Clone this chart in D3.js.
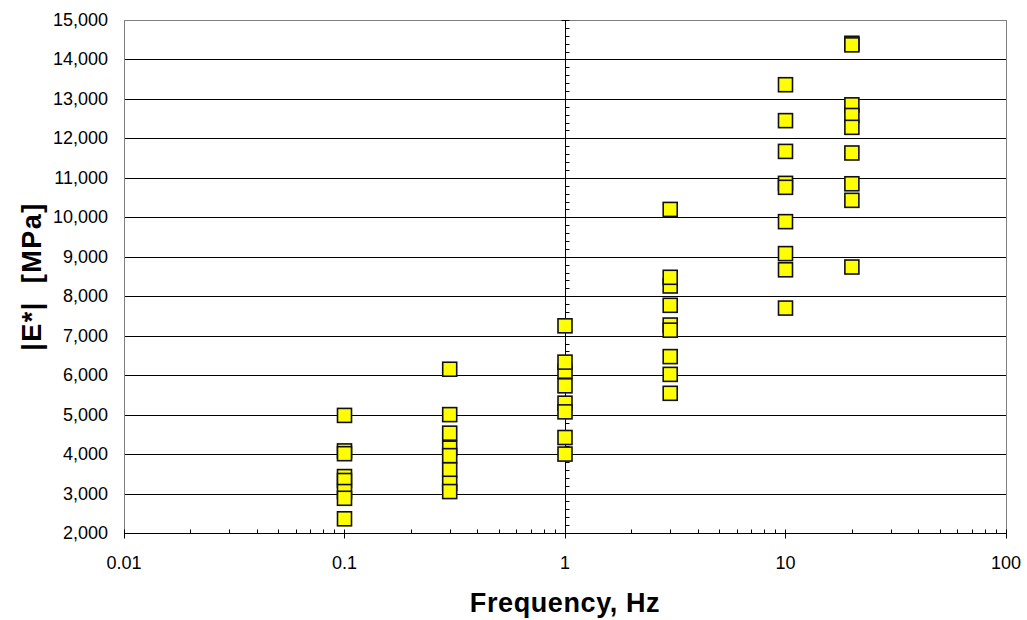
<!DOCTYPE html>
<html lang="en">
<head>
<meta charset="UTF-8">
<title>|E*| vs Frequency</title>
<script src="https://d3js.org/d3.v7.min.js"></script>
<style>
    body { margin: 0; background: #fff; font-family: Arial, "Liberation Sans", sans-serif; }
    svg { display: block; }
    .tick-label { font-size: 18px; fill: #000; }
    .axis-title { font-size: 27px; font-weight: bold; fill: #000; }
    .grid { stroke: #000; stroke-width: 1; shape-rendering: crispEdges; }
    .marker { fill: #ffff00; stroke: #111; stroke-width: 1.6; }
</style>
</head>
<body>
<svg id="chart"></svg>
<script>
    // frequencies tested (Hz)
    const frequencies = [0.1, 0.3, 1, 3, 10, 20];

    // |E*| readings (MPa) at each frequency
    const e_0_1 = [4980, 4080, 4010, 3430, 3330, 3050, 2880, 2360];
    const e_0_3 = [6150, 5000, 4530, 4150, 3960, 3600, 3260, 3050];
    const e_1 = [7250, 6100, 6330, 5730, 5290, 5070, 4420, 4000];
    const e_3 = [10200, 8260, 8480, 7770, 7270, 7140, 6470, 6020, 5540];
    const e_10 = [13360, 12450, 11670, 10860, 10760, 9890, 9080, 8670, 7700];
    const e_20 = [14410, 14370, 12850, 12580, 12280, 11630, 10850, 10430, 8740];

    const yTicks = d3.range(2000, 15001, 1000);
    const xTicks = [0.01, 0.1, 1, 10, 100];

    const width = 1027, height = 620;
    const margin = { left: 124, right: 21, top: 20, bottom: 87 };

    const svg = d3.select("#chart").attr("width", width).attr("height", height);

    const x = d3.scaleLog().domain([0.01, 100]).range([margin.left, width - margin.right]);
    const y = d3.scaleLinear().domain([2000, 15000]).range([height - margin.bottom, margin.top]);

    const px = v => Math.round(v) + 0.5;

    // horizontal gridlines
    svg.selectAll(".grid")
        .data(yTicks.slice(1, -1))
        .enter().append("line")
        .attr("class", "grid")
        .attr("x1", x(0.01)).attr("x2", x(100))
        .attr("y1", d => px(y(d))).attr("y2", d => px(y(d)));

    // plot border
    svg.append("rect")
        .attr("x", px(x(0.01))).attr("y", px(y(15000)))
        .attr("width", Math.round(x(100)) - Math.round(x(0.01)))
        .attr("height", Math.round(y(2000)) - Math.round(y(15000)))
        .attr("fill", "none").attr("stroke", "#808080").attr("stroke-width", 1);

    // value axis crossing at 1 Hz
    const ax = px(x(1));
    svg.append("line")
        .attr("x1", ax).attr("x2", ax)
        .attr("y1", y(15000)).attr("y2", y(2000))
        .attr("stroke", "#000");
    svg.selectAll(".yminor")
        .data(d3.range(2000, 15001, 200))
        .enter().append("line")
        .attr("x1", d => d % 1000 === 0 ? ax - 4 : ax)
        .attr("x2", ax + 4)
        .attr("y1", d => px(y(d))).attr("y2", d => px(y(d)))
        .attr("stroke", "#000");

    // y tick labels
    svg.selectAll(".ylab")
        .data(yTicks)
        .enter().append("text")
        .attr("class", "tick-label")
        .attr("x", margin.left - 16)
        .attr("y", d => y(d) + 6)
        .attr("text-anchor", "end")
        .text(d3.format(","));

    // category (x) axis at bottom
    const by = px(y(2000));
    svg.append("line")
        .attr("x1", x(0.01)).attr("x2", x(100))
        .attr("y1", by).attr("y2", by)
        .attr("stroke", "#000");

    const minor = [];
    xTicks.slice(0, -1).forEach(t => { for (let k = 2; k < 10; k++) minor.push(t * k); });
    svg.selectAll(".xminor")
        .data(minor)
        .enter().append("line")
        .attr("x1", d => px(x(d))).attr("x2", d => px(x(d)))
        .attr("y1", by - 4).attr("y2", by)
        .attr("stroke", "#000");
    svg.selectAll(".xmajor")
        .data(xTicks)
        .enter().append("line")
        .attr("x1", d => px(x(d))).attr("x2", d => px(x(d)))
        .attr("y1", by - 4).attr("y2", by + 5)
        .attr("stroke", "#000");

    svg.selectAll(".xlab")
        .data(xTicks)
        .enter().append("text")
        .attr("class", "tick-label")
        .attr("x", d => x(d))
        .attr("y", by + 35)
        .attr("text-anchor", "middle")
        .text(d => String(d));

    // axis titles
    svg.append("text")
        .attr("class", "axis-title")
        .attr("x", x(1)).attr("y", 612)
        .attr("text-anchor", "middle")
        .attr("letter-spacing", 0.6)
        .text("Frequency, Hz");

    svg.append("text")
        .attr("class", "axis-title")
        .attr("transform", `translate(41,${(y(2000) + y(15000)) / 2}) rotate(-90)`)
        .attr("text-anchor", "middle")
        .attr("letter-spacing", 1.5)
        .attr("xml:space", "preserve")
        .text("|E*|  [MPa]");

    // data markers
    const series = [e_0_1, e_0_3, e_1, e_3, e_10, e_20];
    const s = 14;
    series.forEach((vals, i) => {
        svg.selectAll(null)
            .data(vals)
            .enter().append("rect")
            .attr("class", "marker")
            .attr("x", x(frequencies[i]) - s / 2)
            .attr("y", d => y(d) - s / 2)
            .attr("width", s).attr("height", s);
    });
</script>
</body>
</html>
